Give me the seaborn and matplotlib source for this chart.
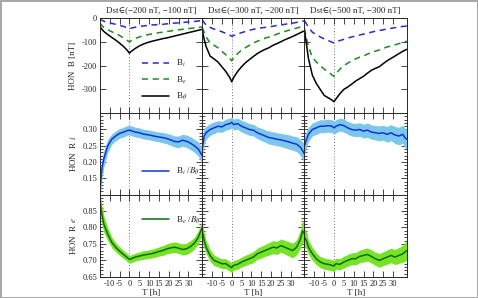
import numpy as np
import pandas as pd
import matplotlib
matplotlib.use("Agg")
import matplotlib.pyplot as plt
from matplotlib.ticker import MultipleLocator
import seaborn as sns

# time axis [h] relative to Dst minimum
T = [-15, -14, -13, -11, -9, -7, -5, -3, -1, 0, 1, 3, 5, 7, 9, 11, 13, 15,
     17, 19, 21, 23, 25, 27, 29, 31, 33, 35, 36, 37]

titles = ["Dst\u2208(\u2212200 nT, \u2212100 nT]",
          "Dst\u2208(\u2212300 nT, \u2212200 nT]",
          "Dst\u2208(\u2212500 nT, \u2212300 nT]"]

# HON B [nT], one list per Dst class
b_theta = [
    [-35, -48, -57, -70, -82, -93, -106, -120, -137, -148, -140, -128, -118, -110, -104,
     -99, -95, -91, -87, -84, -80, -76, -72, -68, -64, -60, -56, -52, -50, -48],
    [-50, -90, -120, -160, -172, -185, -205, -225, -250, -268, -250, -225, -205, -188, -175,
     -162, -150, -140, -132, -125, -115, -108, -100, -92, -85, -78, -70, -62, -58, -55],
    [-55, -110, -170, -240, -275, -300, -325, -335, -345, -352, -340, -318, -300, -290, -278,
     -265, -255, -245, -232, -220, -212, -205, -192, -180, -170, -160, -150, -140, -136, -132],
]
b_e = [
    [-22, -32, -40, -50, -58, -66, -74, -84, -95, -101, -95, -87, -80, -75, -71,
     -68, -65, -62, -60, -57, -55, -52, -50, -48, -46, -44, -42, -40, -39, -38],
    [-40, -60, -80, -105, -115, -125, -140, -155, -170, -180, -168, -150, -135, -125, -115,
     -105, -98, -92, -85, -80, -75, -68, -62, -57, -52, -47, -43, -38, -36, -35],
    [-45, -85, -120, -165, -185, -200, -215, -225, -240, -245, -235, -215, -200, -190, -180,
     -172, -165, -160, -152, -145, -140, -135, -128, -122, -118, -113, -108, -103, -100, -98],
]
b_i = [
    [-5, -10, -14, -19, -23, -27, -31, -36, -42, -45, -43, -39, -36, -34, -32,
     -30, -29, -28, -27, -25, -24, -22, -21, -19, -18, -16, -15, -13, -12, -11],
    [-8, -20, -30, -40, -47, -52, -58, -65, -72, -77, -74, -68, -62, -57, -52,
     -48, -45, -42, -40, -38, -35, -32, -30, -27, -24, -22, -19, -16, -14, -12],
    [-12, -25, -40, -60, -70, -80, -88, -95, -102, -105, -102, -95, -90, -85, -80,
     -76, -72, -68, -64, -60, -56, -53, -50, -46, -44, -41, -38, -36, -35, -34],
]

# HON R i = B_i / B_theta, mean and half spread
r_i = [
    [0.11, 0.18, 0.21, 0.25, 0.27, 0.28, 0.288, 0.292, 0.297, 0.298, 0.296, 0.292, 0.29, 0.286, 0.284,
     0.282, 0.279, 0.277, 0.275, 0.272, 0.268, 0.263, 0.262, 0.267, 0.264, 0.258, 0.25, 0.24, 0.23, 0.22],
    [0.24, 0.28, 0.29, 0.30, 0.305, 0.31, 0.308, 0.315, 0.318, 0.322, 0.315, 0.318, 0.31, 0.305, 0.30,
     0.298, 0.29, 0.285, 0.28, 0.275, 0.273, 0.27, 0.268, 0.265, 0.262, 0.258, 0.255, 0.245, 0.235, 0.225],
    [0.25, 0.27, 0.285, 0.30, 0.305, 0.31, 0.31, 0.312, 0.31, 0.305, 0.31, 0.315, 0.312, 0.305, 0.30,
     0.298, 0.30, 0.295, 0.298, 0.292, 0.29, 0.288, 0.29, 0.285, 0.29, 0.283, 0.28, 0.285, 0.275, 0.27],
]
r_i_err = [
    [0.03, 0.03, 0.025, 0.02, 0.016, 0.015, 0.015, 0.015, 0.015, 0.015, 0.015, 0.015, 0.015, 0.015, 0.015,
     0.015, 0.015, 0.015, 0.016, 0.016, 0.017, 0.017, 0.018, 0.018, 0.019, 0.02, 0.02, 0.022, 0.024, 0.026],
    [0.03, 0.025, 0.02, 0.018, 0.018, 0.017, 0.017, 0.017, 0.017, 0.017, 0.017, 0.017, 0.018, 0.018, 0.018,
     0.018, 0.018, 0.019, 0.019, 0.02, 0.02, 0.02, 0.02, 0.021, 0.022, 0.022, 0.023, 0.025, 0.027, 0.03],
    [0.03, 0.025, 0.022, 0.02, 0.02, 0.02, 0.02, 0.02, 0.02, 0.02, 0.02, 0.02, 0.02, 0.02, 0.02,
     0.02, 0.021, 0.021, 0.022, 0.022, 0.022, 0.023, 0.023, 0.024, 0.025, 0.026, 0.027, 0.028, 0.03, 0.03],
]

# HON R e = B_e / B_theta, mean and half spread
r_e = [
    [0.88, 0.84, 0.81, 0.78, 0.755, 0.74, 0.728, 0.718, 0.708, 0.703, 0.705, 0.71, 0.713, 0.716, 0.718,
     0.72, 0.723, 0.727, 0.73, 0.735, 0.738, 0.74, 0.737, 0.733, 0.735, 0.742, 0.752, 0.77, 0.785, 0.80],
    [0.79, 0.76, 0.74, 0.715, 0.70, 0.695, 0.69, 0.69, 0.682, 0.678, 0.685, 0.688, 0.695, 0.70, 0.705,
     0.71, 0.72, 0.725, 0.73, 0.735, 0.74, 0.738, 0.745, 0.74, 0.735, 0.73, 0.74, 0.765, 0.79, 0.78],
    [0.77, 0.76, 0.74, 0.72, 0.705, 0.695, 0.69, 0.688, 0.685, 0.683, 0.69, 0.688, 0.695, 0.70, 0.705,
     0.705, 0.712, 0.715, 0.718, 0.712, 0.705, 0.70, 0.705, 0.71, 0.715, 0.71, 0.715, 0.72, 0.725, 0.73],
]
r_e_err = [
    [0.03, 0.03, 0.025, 0.02, 0.016, 0.014, 0.013, 0.012, 0.012, 0.012, 0.012, 0.012, 0.012, 0.013, 0.013,
     0.013, 0.014, 0.014, 0.015, 0.015, 0.016, 0.016, 0.016, 0.017, 0.017, 0.018, 0.018, 0.02, 0.022, 0.025],
    [0.03, 0.025, 0.02, 0.018, 0.016, 0.015, 0.015, 0.015, 0.015, 0.015, 0.015, 0.015, 0.015, 0.016, 0.016,
     0.017, 0.017, 0.018, 0.018, 0.019, 0.02, 0.02, 0.02, 0.021, 0.022, 0.022, 0.023, 0.028, 0.035, 0.035],
    [0.03, 0.025, 0.022, 0.02, 0.018, 0.017, 0.017, 0.017, 0.017, 0.017, 0.017, 0.017, 0.018, 0.018, 0.018,
     0.019, 0.019, 0.02, 0.02, 0.02, 0.02, 0.021, 0.021, 0.022, 0.022, 0.023, 0.024, 0.026, 0.028, 0.03],
]

sns.set_theme(style="ticks")
plt.rcParams["font.family"] = ["Liberation Serif", "DejaVu Serif"]
plt.rcParams["mathtext.fontset"] = "stix"
plt.rcParams["axes.unicode_minus"] = False
plt.rcParams["font.size"] = 6.5
plt.rcParams["axes.linewidth"] = 0.7

BLUE_D = "#2a2ad0"
GREEN_D = "#1e8a1e"
BLUE_L = "#1034d8"
BLUE_BAND = "#7cc6ec"
GREEN_BAND = "#78e228"
GREEN_L = "#0a6e0a"

fig = plt.figure(figsize=(4.78, 2.98), dpi=100)
gs = fig.add_gridspec(3, 3, left=0.209, right=0.851, top=0.940, bottom=0.071,
                      hspace=0, wspace=0, height_ratios=[95, 81, 82])
axes = np.empty((3, 3), dtype=object)
for r in range(3):
    for c in range(3):
        kw = {}
        if r > 0:
            kw["sharex"] = axes[0, c]
        if c > 0:
            kw["sharey"] = axes[r, 0]
        axes[r, c] = fig.add_subplot(gs[r, c], **kw)

for c in range(3):
    df = pd.DataFrame({"T": T, "Bi": b_i[c], "Be": b_e[c], "Bt": b_theta[c],
                       "Ri": r_i[c], "Re": r_e[c],
                       "Ri_err": r_i_err[c], "Re_err": r_e_err[c]})

    ax = axes[0, c]
    sns.lineplot(data=df, x="T", y="Bi", ax=ax, color=BLUE_D, lw=1.1,
                 linestyle=(0, (4, 3)), label=r"B$_i$")
    sns.lineplot(data=df, x="T", y="Be", ax=ax, color=GREEN_D, lw=1.1,
                 linestyle=(0, (4, 3)), label=r"B$_e$")
    sns.lineplot(data=df, x="T", y="Bt", ax=ax, color="black", lw=1.1,
                 label=r"B$_\theta$")
    ax.set_title(titles[c], fontsize=6.5, pad=4)

    ax = axes[1, c]
    ax.fill_between(df["T"], df["Ri"] - df["Ri_err"], df["Ri"] + df["Ri_err"],
                    color=BLUE_BAND, lw=0)
    sns.lineplot(data=df, x="T", y="Ri", ax=ax, color=BLUE_L, lw=1.1,
                 label=r"B$_i$ /$B_\theta$")

    ax = axes[2, c]
    ax.fill_between(df["T"], df["Re"] - df["Re_err"], df["Re"] + df["Re_err"],
                    color=GREEN_BAND, lw=0)
    sns.lineplot(data=df, x="T", y="Re", ax=ax, color=GREEN_L, lw=1.1,
                 label=r"B$_e$ /$B_\theta$")

for r in range(3):
    for c in range(3):
        ax = axes[r, c]
        ax.axvline(0, color="#777777", lw=0.7, ls=(0, (1, 2)), zorder=0)
        ax.set_xlim(-15, 37)
        ax.xaxis.set_major_locator(MultipleLocator(5))
        ax.tick_params(direction="in", top=True, right=True, which="both",
                       length=4, width=0.6, labelsize=6, pad=2)
        ax.tick_params(which="minor", length=2)
        ax.set_xlabel("")
        ax.set_ylabel("")
        if r < 2:
            ax.tick_params(labelbottom=False)
        else:
            ax.set_xticks([-10, -5, 0, 5, 10, 15, 20, 25, 30])
            ax.set_xlabel("T [h]", fontsize=6.5, labelpad=1)
        if c > 0:
            ax.tick_params(labelleft=False)
            leg = ax.get_legend()
            if leg is not None:
                leg.remove()

axes[0, 0].set_ylim(-400, 0)
axes[0, 0].set_yticks([0, -100, -200, -300])
axes[1, 0].set_ylim(0.10, 0.35)
axes[1, 0].set_yticks([0.15, 0.20, 0.25, 0.30])
axes[1, 0].yaxis.set_minor_locator(MultipleLocator(0.01))
axes[2, 0].set_ylim(0.65, 0.90)
axes[2, 0].set_yticks([0.65, 0.70, 0.75, 0.80, 0.85])
axes[2, 0].yaxis.set_minor_locator(MultipleLocator(0.01))

axes[0, 0].set_ylabel("HON  B [nT]", fontsize=6.5, labelpad=3)
axes[1, 0].set_ylabel("HON  R $i$", fontsize=6.5, labelpad=3)
axes[2, 0].set_ylabel("HON  R $e$", fontsize=6.5, labelpad=3)

axes[0, 0].legend(loc="lower left", bbox_to_anchor=(0.33, 0.03), frameon=False,
                  fontsize=6.5, handlelength=3.0, labelspacing=0.6, handletextpad=0.8)
axes[1, 0].legend(loc="center left", bbox_to_anchor=(0.33, 0.28), frameon=False,
                  fontsize=6.5, handlelength=3.0, handletextpad=0.8)
axes[2, 0].legend(loc="center left", bbox_to_anchor=(0.33, 0.69), frameon=False,
                  fontsize=6.5, handlelength=3.0, handletextpad=0.8)

fig.patch.set_edgecolor("#a8a8a8")
fig.patch.set_linewidth(1.0)
fig.savefig("out.png", dpi=100, edgecolor=fig.get_edgecolor())
